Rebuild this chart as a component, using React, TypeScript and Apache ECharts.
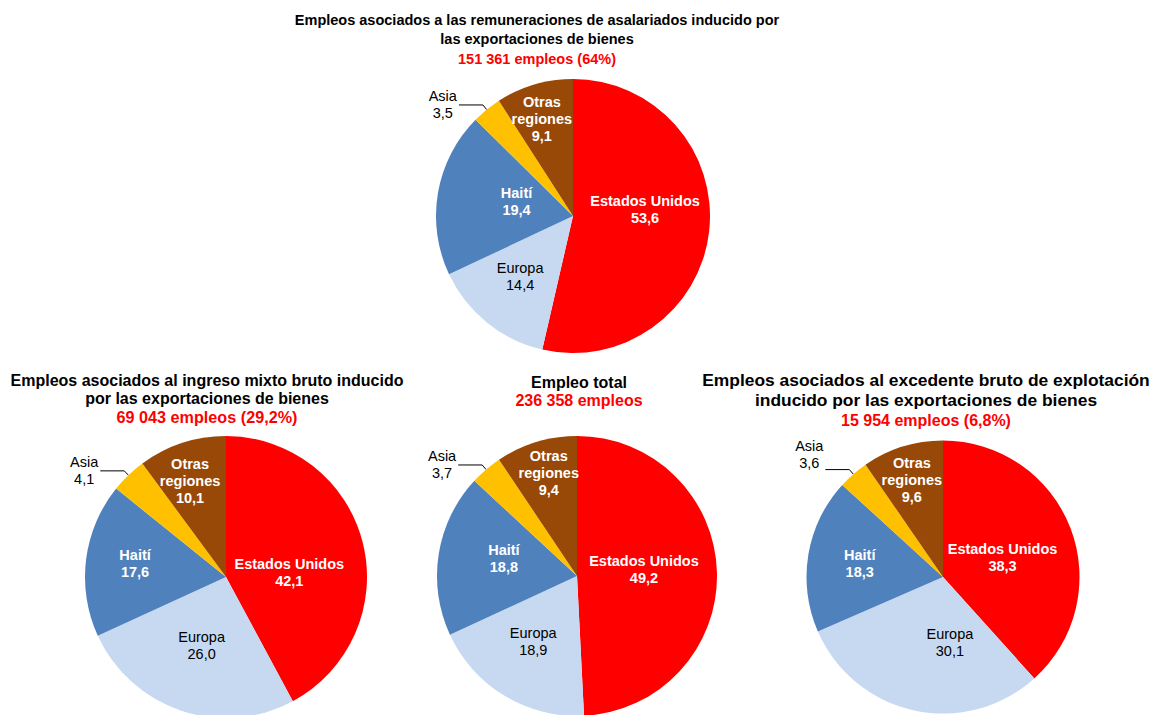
import React, { useEffect, useRef } from 'react';
import * as echarts from 'echarts';

// ---- Data ----
const regions = ['Estados Unidos', 'Europa', 'Haití', 'Asia', 'Otras regiones'];
const regionLabels = ['Estados Unidos', 'Europa', 'Haití', 'Asia', 'Otras\nregiones'];

const remuneraciones = [53.6, 14.4, 19.4, 3.5, 9.1];
const ingresoMixto = [42.1, 26.0, 17.6, 4.1, 10.1];
const empleoTotal = [49.2, 18.9, 18.8, 3.7, 9.4];
const excedente = [38.3, 30.1, 18.3, 3.6, 9.6];

const titles = [
  'Empleos asociados a las remuneraciones de asalariados inducido por\nlas exportaciones de bienes',
  'Empleos asociados al ingreso mixto bruto inducido\npor las exportaciones de bienes',
  'Empleo total',
  'Empleos asociados al excedente bruto de explotación\ninducido por las exportaciones de bienes',
];
const subtitles = [
  '151 361 empleos (64%)',
  '69 043 empleos (29,2%)',
  '236 358 empleos',
  '15 954 empleos (6,8%)',
];

// ---- Styles ----
const FONT = "'Liberation Sans', Arial, Helvetica, sans-serif";
const regionColors = ['#FF0000', '#C6D9F1', '#4F81BD', '#FFC000', '#984807'];
const whiteBold = [true, false, true, false, true];

const fmt = (v: number) => v.toFixed(1).replace('.', ',');

type PieSpec = {
  values: number[];
  center: [number, number];
  radius: number;
  nudges: number[][];
};

const pies: PieSpec[] = [
  { values: remuneraciones, center: [573, 216], radius: 137,
    nudges: [[1, -15], [-8, 5], [14, -2], [0, 0], [-11, -28]] },
  { values: ingresoMixto, center: [226, 577], radius: 141,
    nudges: [[-8, 13], [-1, -1], [-18, -4], [0, 0], [-13, -26]] },
  { values: empleoTotal, center: [577, 576], radius: 140,
    nudges: [[-6, -5], [-6, 3], [-1, -6], [0, 0], [-7, -33]] },
  { values: excedente, center: [943, 577], radius: 136.5,
    nudges: [[-7, 6], [22, -4], [-13, -2], [0, -15], [-10, -29]] },
];

const titleLayout = [
  { left: 537, top: 10, size: 14.5, sub: 14.5, lh: 19.5 },
  { left: 207, top: 371, size: 16, sub: 16.2, lh: 18.5 },
  { left: 579, top: 373, size: 16, sub: 16, lh: 18 },
  { left: 926, top: 370, size: 17.4, sub: 16, lh: 20 },
];

export default function App() {
  const ref = useRef<HTMLDivElement>(null);

  useEffect(() => {
    if (!ref.current) return;
    const chart = echarts.init(ref.current, undefined, { renderer: 'svg' });

    const title = titles.map((t, i) => ({
      text: t,
      subtext: subtitles[i],
      left: titleLayout[i].left,
      top: titleLayout[i].top,
      textAlign: 'center',
      padding: 0,
      itemGap: 0,
      textStyle: {
        fontFamily: FONT,
        fontSize: titleLayout[i].size,
        fontWeight: 'bold',
        color: '#000000',
        lineHeight: titleLayout[i].lh,
      },
      subtextStyle: {
        fontFamily: FONT,
        fontSize: titleLayout[i].sub,
        fontWeight: 'bold',
        color: '#FF0000',
        lineHeight: titleLayout[i].lh,
      },
    }));

    const series = pies.map((p, pi) => ({
      type: 'pie',
      name: titles[pi],
      center: p.center,
      radius: p.radius,
      startAngle: 90,
      clockwise: true,
      silent: true,
      avoidLabelOverlap: false,
      label: {
        show: true,
        position: 'inside',
        fontFamily: FONT,
        fontSize: 14.5,
        lineHeight: 17,
        align: 'center',
        formatter: (d: any) => `${regionLabels[d.dataIndex]}\n${fmt(d.value)}`,
      },
      labelLine: { show: false },
      labelLayout: (params: any) => {
        const i = params.dataIndex;
        const [dx, dy] = p.nudges[i];
        if (i === 3) {
          return { align: 'center', dx: dx - params.labelRect.width / 2, dy };
        }
        return { dx, dy };
      },
      data: p.values.map((v, i) => {
        const item: any = {
          name: regions[i],
          value: v,
          itemStyle: { color: regionColors[i] },
          label: {
            color: whiteBold[i] ? '#FFFFFF' : '#000000',
            fontWeight: whiteBold[i] ? 'bold' : 'normal',
          },
        };
        if (i === 3) {
          item.label = {
            position: 'outside',
            color: '#000000',
            fontWeight: 'normal',
            distanceToLabelLine: 2,
          };
          item.labelLine = {
            show: true,
            length: 6,
            length2: 24,
            smooth: false,
            lineStyle: { color: '#000000', width: 1 },
          };
        }
        return item;
      }),
    }));

    chart.setOption({
      animation: false,
      backgroundColor: '#FFFFFF',
      title,
      series,
    } as any);

    return () => chart.dispose();
  }, []);

  return (
    <div
      ref={ref}
      style={{ position: 'absolute', left: 0, top: 0, width: 1156, height: 715 }}
    />
  );
}
